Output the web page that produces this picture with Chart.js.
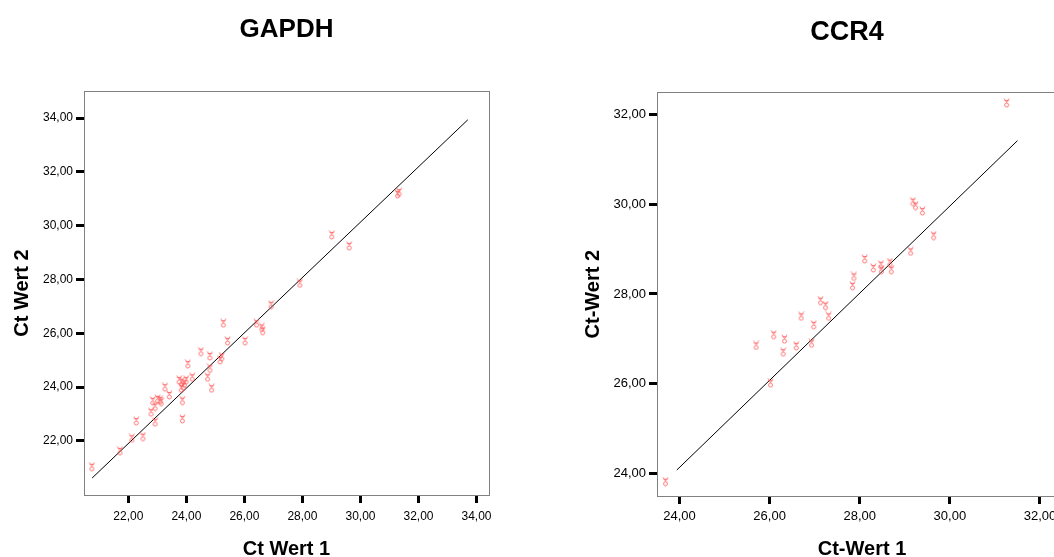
<!DOCTYPE html>
<html><head><meta charset="utf-8">
<script src="https://cdn.jsdelivr.net/npm/chart.js@4.4.0/dist/chart.umd.min.js"></script>
<style>
html,body{margin:0;padding:0;background:#fff;width:1054px;height:557px;overflow:hidden;position:relative}
#w1{position:absolute;left:0;top:0;width:576px;height:557px}
#w2{position:absolute;left:530px;top:0;width:634px;height:557px}
</style></head><body>
<div id="w1"><canvas id="c1"></canvas></div>
<div id="w2"><canvas id="c2"></canvas></div>
<script>
// ---- data ----
const gapdhX = [20.74,21.71,22.12,22.50,22.27,22.92,22.78,22.84,22.92,23.01,23.09,23.13,23.26,23.41,23.86,23.86,23.75,23.84,23.89,23.99,23.82,23.93,24.05,24.20,24.50,24.73,24.81,24.87,24.81,25.16,25.27,25.42,25.22,26.02,26.42,26.63,26.60,26.92,27.91,29.01,29.61,31.33,31.28];
const gapdhY = [21.04,21.63,22.10,22.16,22.74,22.70,23.07,23.49,23.28,23.56,23.52,23.46,24.00,23.71,22.82,23.50,24.27,24.20,24.04,24.27,23.96,24.14,24.86,24.37,25.32,24.37,24.70,23.96,25.16,25.01,26.38,25.72,25.13,25.72,26.38,26.10,26.22,27.06,27.86,29.66,29.25,31.25,31.18];
const gapdhFitX = [20.75, 33.70];
const gapdhFitY = [20.62, 33.94];
const gapdhTicks = [22,24,26,28,30,32,34];

const ccr4X = [23.69,26.02,25.70,26.09,26.30,26.33,26.59,26.70,26.93,26.98,27.13,27.24,27.31,27.84,27.87,28.11,28.30,28.47,28.48,28.67,28.70,29.13,29.18,29.24,29.39,29.64,31.26];
const ccr4Y = [23.81,26.01,26.85,27.09,26.70,26.99,26.84,27.50,26.90,27.31,27.85,27.74,27.50,28.18,28.39,28.78,28.58,28.65,28.54,28.70,28.54,28.95,30.06,29.97,29.85,29.30,32.26];
const ccr4FitX = [23.94, 31.50];
const ccr4FitY = [24.07, 31.42];
const ccr4Ticks = [24,26,28,30,32];

// ---- marker glyph ----
function makeMarker(){
  const c = document.createElement('canvas');
  c.width = 7; c.height = 10;
  const g = c.getContext('2d');
  g.strokeStyle = 'rgba(255,90,90,0.8)';
  g.lineWidth = 1;
  g.beginPath();
  g.moveTo(1,0.5); g.lineTo(3.5,4.5); g.lineTo(6,0.5);
  g.moveTo(1.5,2.5); g.lineTo(5.5,2.5);
  g.stroke();
  g.beginPath();
  g.arc(3.5,7,2,0,Math.PI*2);
  g.stroke();
  return c;
}
const marker = makeMarker();
const FONT = 'Liberation Sans, Arial, sans-serif';
const fmt = v => Number(v).toFixed(2).replace('.', ',');

const boxPlugin = {
  id:'box',
  beforeDatasetsDraw(chart){
    const {ctx, chartArea:a} = chart;
    ctx.save();
    ctx.strokeStyle = '#808080';
    ctx.lineWidth = 1;
    ctx.strokeRect(Math.round(a.left)+0.5, Math.round(a.top)+0.5, Math.round(a.right-a.left), Math.round(a.bottom-a.top));
    ctx.restore();
  }
};

function build(id, cfg){
  const pts = cfg.xs.map((x,i)=>({x:x, y:cfg.ys[i]}));
  const fit = cfg.fx.map((x,i)=>({x:x, y:cfg.fy[i]}));
  const axis = (ticks, min, max, title, tpad, isX) => ({
    type:'linear', min:min, max:max,
    afterBuildTicks: s => { s.ticks = ticks.map(v=>({value:v})); },
    afterFit: s => { if (isX) s.height = cfg.xH; else s.width = cfg.yW; },
    ticks:{ callback: v => fmt(v), color:'#000', font:{family:FONT, size:cfg.tickSize}, padding: isX ? cfg.xTickPad : 3, maxRotation:0, autoSkip:false },
    grid:{ display:true, drawOnChartArea:false, drawTicks:true, tickLength:8, tickWidth:3, tickColor:'#000' },
    border:{ display:false },
    title:{ display:true, text:title, color:'#000', font:{family:FONT, size:20, weight:'bold', lineHeight: isX ? 0.8 : 1.2}, padding: tpad }
  });
  // widen the y scale's label area to the left after layout (labels are clipped to the scale box)
  const widen = {
    id:'widen',
    afterLayout(chart){ if (cfg.yLeft != null) chart.scales.y.left = cfg.yLeft; }
  };
  return new Chart(document.getElementById(id), {
    type:'scatter',
    data:{ datasets:[
      { data:pts, pointStyle:marker, pointRadius:3, showLine:false },
      { type:'line', data:fit, borderColor:'#000', borderWidth:1, pointRadius:0, fill:false, tension:0 }
    ]},
    options:{
      responsive:true, maintainAspectRatio:false, animation:false,
      layout:{ padding:{ left:cfg.padL, right:cfg.padR, top:0, bottom:0 } },
      plugins:{
        legend:{display:false}, tooltip:{enabled:false},
        title:{ display:true, fullSize:cfg.fullTitle, text:cfg.title, color:'#000', font:{family:FONT, size:cfg.titleSize, weight:'bold'}, padding:{top:cfg.tTop, bottom:cfg.tBot} }
      },
      scales:{
        x: axis(cfg.xt, cfg.xmin, cfg.xmax, cfg.xTitle, {top:0,bottom:0}, true),
        y: axis(cfg.yt, cfg.ymin, cfg.ymax, cfg.yTitle, {top:cfg.yTitlePad,bottom:0}, false)
      }
    },
    plugins:[boxPlugin, widen]
  });
}

build('c1', { xs:gapdhX, ys:gapdhY, fx:gapdhFitX, fy:gapdhFitY, xt:gapdhTicks, yt:gapdhTicks,
  xmin:20.47, xmax:34.43, ymin:19.99, ymax:35.01, title:'GAPDH', titleSize:26, tTop:14, tBot:45.8, fullTitle:false,
  xTitle:'Ct Wert 1', yTitle:'Ct Wert 2', xH:62, yW:84, padL:0, padR:87, yTitlePad:10, tickSize:12, xTickPad:6, yLeft:null });

build('c2', { xs:ccr4X, ys:ccr4Y, fx:ccr4FitX, fy:ccr4FitY, xt:ccr4Ticks, yt:ccr4Ticks,
  xmin:23.5, xmax:32.6, ymin:23.49, ymax:32.5, title:'CCR4', titleSize:27, tTop:16, tBot:43.9, fullTitle:true,
  xTitle:'Ct-Wert 1', yTitle:'Ct-Wert 2', xH:61, yW:30, padL:97, padR:97, yTitlePad:1.5, tickSize:13, xTickPad:5, yLeft:50 });
</script>
</body></html>
